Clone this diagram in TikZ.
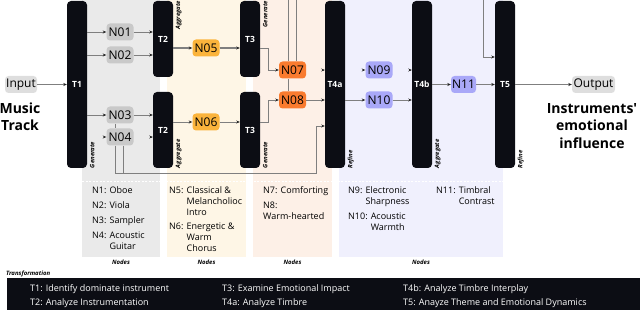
\documentclass[tikz,border=0pt]{standalone}
\usepackage{fontspec}
\setmainfont{Open Sans}
\usetikzlibrary{arrows.meta,calc}

\definecolor{barblack}{HTML}{0C0D14}
\definecolor{panelgray}{HTML}{EAEAEA}
\definecolor{panelcream}{HTML}{FEF6E6}
\definecolor{panelpeach}{HTML}{FDF0E7}
\definecolor{panellav}{HTML}{F0F0FD}
\definecolor{nodegray}{HTML}{C9C9C9}
\definecolor{iogray}{HTML}{DEDEDE}
\definecolor{nodeyellow}{HTML}{FBB43C}
\definecolor{nodeorange}{HTML}{F97B2F}
\definecolor{nodelav}{HTML}{A9A8F8}
\definecolor{edgegray}{HTML}{7F7F7F}

\begin{document}
\begin{tikzpicture}[x=1pt, y=-1pt, >={Stealth[length=3.5pt,width=3pt]},
    tbar/.style={fill=barblack, rounded corners=4pt, minimum width=20pt, inner sep=0pt, text=white, font=\bfseries\fontsize{8.5}{9}\selectfont},
    opname/.style={rotate=90, inner sep=0pt, font=\bfseries\itshape\fontsize{6}{6}\selectfont},
    nd/.style={rounded corners=3.5pt, minimum width=27pt, minimum height=17pt, inner sep=1pt, font=\fontsize{12}{12}\selectfont},
    wire/.style={draw=edgegray, line width=0.8pt},
    arr/.style={wire, -{Stealth[length=3.5pt,width=3pt,color=black!85]}},
    ttl/.style={align=center, font=\bfseries\fontsize{14}{17.5}\selectfont},
    legend/.style={anchor=north west, inner sep=0pt, font=\fontsize{9}{11}\selectfont},
    foot/.style={anchor=base, inner sep=0pt, font=\bfseries\itshape\fontsize{6}{6}\selectfont},
    task/.style={anchor=base west, inner sep=0pt, text=white, font=\fontsize{9}{9}\selectfont}]
        \useasboundingbox (0,0) rectangle (640,310);

        % Panels behind the stages
        \fill[panelgray] (82,0) rectangle (160,257);
        \fill[panelcream] (167,0) rectangle (246,257);
        \fill[panelpeach] (253,0) rectangle (332,257);
        \fill[panellav] (339,0) rectangle (503,257);
        \draw[white, line width=0.8pt, dash pattern=on 2pt off 1.5pt] (82,181) -- (503,181);

        % Transformation bars
        \node[tbar, minimum height=167pt] (T1) at (77,84.5) {T1};
        \node[tbar, minimum height=76pt] (T2a) at (163,39) {T2};
        \node[tbar, minimum height=76pt] (T2b) at (163,130) {T2};
        \node[tbar, minimum height=76pt] (T3a) at (250,39) {T3};
        \node[tbar, minimum height=76pt] (T3b) at (250,130) {T3};
        \node[tbar, minimum height=167pt] (T4a) at (335,84.5) {T4a};
        \node[tbar, minimum height=167pt] (T4b) at (422,84.5) {T4b};
        \node[tbar, minimum height=167pt] (T5) at (505,84.5) {T5};

        %Operation labels
        \node[opname, anchor=north west] (g1) at ([xshift=2.5pt]T1.south east) {Generate};
        \node[opname, anchor=north east] (a1) at ([xshift=2.5pt]T2a.north east) {Aggregate};
        \node[opname, anchor=north west] (a2) at ([xshift=2.5pt]T2b.south east) {Aggregate};
        \node[opname, anchor=north east] (g2) at ([xshift=2.5pt]T3a.north east) {Generate};
        \node[opname, anchor=north west] (g3) at ([xshift=2.5pt]T3b.south east) {Generate};
        \node[opname, anchor=north west] (r1) at ([xshift=2.5pt]T4a.south east) {Refine};
        \node[opname, anchor=north west] (a3) at ([xshift=2.5pt]T4b.south east) {Aggregate};
        \node[opname, anchor=north west] (r2) at ([xshift=2.5pt]T5.south east) {Refine};

        % Nodes
        \node[nd, fill=iogray, minimum width=32pt] (in) at (21,84.5) {Input};
        \node[nd, fill=nodegray] (N01) at (120,32) {N01};
        \node[nd, fill=nodegray] (N02) at (120,55) {N02};
        \node[nd, fill=nodegray] (N03) at (120,115) {N03};
        \node[nd, fill=nodegray] (N04) at (120,137) {N04};
        \node[nd, fill=nodeyellow] (N05) at (206,48) {N05};
        \node[nd, fill=nodeyellow] (N06) at (206,122) {N06};
        \node[nd, fill=nodeorange] (N07) at (292.5,70) {N07};
        \node[nd, fill=nodeorange] (N08) at (292.5,100) {N08};
        \node[nd, fill=nodelav] (N09) at (379,70) {N09};
        \node[nd, fill=nodelav] (N10) at (379,100) {N10};
        \node[nd, fill=nodelav, minimum width=25pt] (N11) at (463.5,84.5) {N11};
        \node[nd, fill=iogray, minimum width=43pt] (out) at (593.5,84.5) {Output};

        \node[ttl] (src) at (20,117) {Music\\Track};
        \node[ttl] (dst) at (592,126) {Instruments\textquotesingle\\emotional\\influence};

        % Edges
        \draw[arr] (in) -- (T1);
        \draw[arr] (T1.east |- N01) -- (N01);
        \draw[arr] (T1.east |- N02) -- (N02);
        \draw[arr] (T1.east |- N03) -- (N03);
        \draw[arr] (N01) -- (N01 -| T2a.west);
        \draw[arr] (N02) -- (N02 -| T2a.west);
        \draw[arr] (N03) -- (N03 -| T2b.west);
        \draw[arr, line width=1.2pt] (T2a.east |- N05) -- (N05);
        \draw[arr] (T2b.east |- N06) -- (N06);
        \draw[arr, line width=1.2pt] (N05) -- (N05 -| T3a.west);
        \draw[arr] (N06) -- (N06 -| T3b.west);
        \draw[arr] (T3a.east |- N05) -- ++(8,0) |- (N07);
        \draw[arr] (T3b.east |- N06) -- ++(8,0) |- (N08);
        \draw[arr] (N08) -- (N08 -| T4a.west);
        \draw[arr] (T4a.east |- N10) -- (N10);
        \draw[arr] (N10) -- (N10 -| T4b.west);
        \draw[arr] (T4b.east |- N11) -- (N11);
        \draw[arr] (N11) -- (T5);
        \draw[arr] (T5) -- (out);

        % Loose arrow tips
        \draw[arr] ([xshift=-2pt]N04.west) -- (N04.west);
        \draw[arr] ($(N04 -| T2b.west)+(-2,0)$) -- (N04 -| T2b.west);
        \draw[arr] ($(N07 -| T4a.west)+(-2,0)$) -- (N07 -| T4a.west);
        \draw[arr] ([xshift=-2pt]N09.west) -- (N09.west);
        \draw[arr] ($(N09 -| T4b.west)+(-2,0)$) -- (N09 -| T4b.west);

        % Skip lines over the top into T5
        \coordinate (over) at (483,-6);
        \draw[wire] ([xshift=-4.5pt]N08.north) -- ([xshift=-4.5pt]N07.south);
        \draw[wire] ([xshift=3.5pt]N07.north) |- (over);
        \draw[arr] ([xshift=-4.5pt]N07.north) |- (over) |- ([yshift=27.5pt]T5.west);

        % Skip lines under the bars into T4a
        \coordinate (low) at (316,173);
        \draw[wire] ([xshift=-5pt]N03.south) -- ([xshift=-5pt]N04.north);
        \draw[wire] ([xshift=-5pt]N04.south) |- (low);
        \draw[arr] ([xshift=3pt]N04.south) |- (low) |- ([yshift=-41.5pt]T4a.west);

        % Legends
        \node[legend] (leg1) at (92,185.5) {\begin{tabular}{@{}l@{ }l@{}}N1: & Oboe\\[4pt] N2: & Viola\\[4pt] N3: & Sampler\\[4pt] N4: & Acoustic\\ & Guitar\end{tabular}};
        \node[legend] (leg2) at (169,185.5) {\begin{tabular}{@{}l@{ }l@{}}N5: & Classical \&\\ & Melancholioc\\ & Intro\\[3pt] N6: & Energetic \&\\ & Warm\\ & Chorus\end{tabular}};
        \node[legend] (leg3) at (263,185.5) {\begin{tabular}{@{}l@{ }l@{}}N7: & Comforting\\[4pt] N8: & \\ \multicolumn{2}{@{}l@{}}{Warm-hearted}\end{tabular}};
        \node[legend] (leg4) at (348,185.5) {\begin{tabular}{@{}l@{ }l@{}}N9: & Electronic\\ & Sharpness\end{tabular}};
        \node[legend] (leg5) at (348,211.5) {\begin{tabular}{@{}l@{ }l@{}}N10: & Acoustic\\ & Warmth\end{tabular}};
        \node[legend] (leg6) at (436,185.5) {\begin{tabular}{@{}l@{ }l@{}}N11: & Timbral\\ & Contrast\end{tabular}};

        \node[foot] (ft1) at (121,264) {Nodes};
        \node[foot] (ft2) at (206.5,264) {Nodes};
        \node[foot] (ft3) at (292.5,264) {Nodes};
        \node[foot] (ft4) at (421,264) {Nodes};

        % Transformation key
        \node[foot, anchor=base west] (tf) at (6,275) {Transformation};
        \fill[barblack] (7,278) rectangle (640,310);
        \node[task] (k1) at (30,291.5) {T1: Identify dominate instrument};
        \node[task] (k2) at (30,305.5) {T2: Analyze Instrumentation};
        \node[task] (k3) at (222,291.5) {T3: Examine Emotional Impact};
        \node[task] (k4) at (222,305.5) {T4a: Analyze Timbre};
        \node[task] (k5) at (403,291.5) {T4b: Analyze Timbre Interplay};
        \node[task] (k6) at (403,305.5) {T5: Anayze Theme and Emotional Dynamics};
\end{tikzpicture}
\end{document}
